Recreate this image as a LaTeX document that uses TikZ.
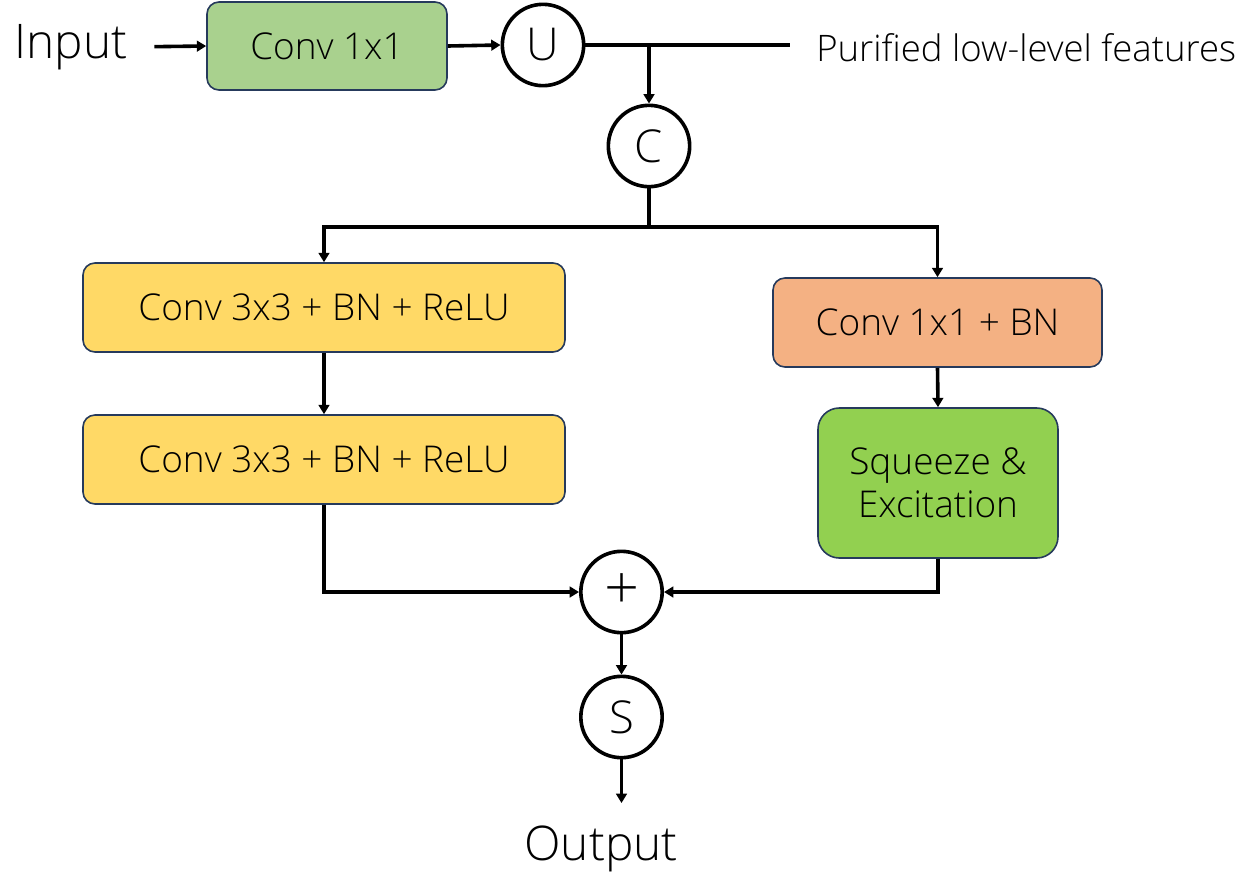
\documentclass[tikz,border=0pt]{standalone}
\usepackage{fontspec}
\IfFontExistsTF{NotoSans-Light.ttf}{\setmainfont{NotoSans-Light.ttf}}{%
  \IfFontExistsTF{Open Sans Light}{\setmainfont{Open Sans Light}}{\setmainfont{Noto Sans}}}
\usetikzlibrary{arrows.meta,calc}
\definecolor{cgreen}{HTML}{A9D18E}
\definecolor{cyellow}{HTML}{FFD966}
\definecolor{corange}{HTML}{F4B183}
\definecolor{cse}{HTML}{92D050}
\definecolor{cborder}{HTML}{263A5C}
\tikzset{
  box/.style={draw=cborder, line width=1.2pt, rounded corners=9pt, align=center,
    font=\fontsize{27.7}{32.5}\selectfont, inner sep=0pt},
  op/.style={circle, draw=black, line width=2.7pt, minimum size=61pt, inner sep=0pt,
    font=\fontsize{34}{36}\selectfont},
  lbl/.style={font=\fontsize{35.8}{38}\selectfont, inner sep=0pt},
  conn/.style={line width=2.7pt, draw=black},
  arr/.style={conn, -{Triangle[length=7pt,width=8pt]}},
}
\begin{document}
\begin{tikzpicture}[x=0.75pt,y=-0.75pt]
\useasboundingbox (0,0) rectangle (1255,886);
\node[lbl] (inp) at (71,47) {Input};
\node[box, fill=cgreen, minimum width=180pt, minimum height=66pt] (conv1) at (327,46) {Conv 1x1};
\node[op] (U) at (543,45) {U};
\coordinate (pf) at (790,45);
\node[font=\fontsize{27.4}{30}\selectfont, anchor=west, inner sep=0pt] (pftext) at (816,48) {Purified low-level features};
\node[op] (C) at (649,146) {C};
\coordinate (split) at (649,227);
\node[box, fill=cyellow, minimum width=361.5pt, minimum height=66.75pt] (L1) at (324,307.5) {Conv 3x3 + BN + ReLU};
\node[box, fill=cyellow, minimum width=361.5pt, minimum height=66.75pt] (L2) at (324,459.5) {Conv 3x3 + BN + ReLU};
\node[box, fill=corange, minimum width=246.75pt, minimum height=66.75pt] (R1) at (937.5,322.5) {Conv 1x1 + BN};
\node[box, fill=cse, rounded corners=16pt, minimum width=180pt, minimum height=112.5pt] (SE) at (938,483) {Squeeze \&\\Excitation};
\node[op, font=\fontsize{46}{48}\selectfont] (plus) at (621.5,592) {+};
\node[op] (S) at (621.5,717) {S};
\node[lbl] (out) at (601,849) {Output};

\draw[arr, shorten <=20pt] (inp.east) -- (conv1.west);
\draw[arr] (conv1.east) -- (U.west);
\draw[conn] (U.east) -- (pf);
\draw[arr] (C |- U) -- (C.north);
\draw[conn] (C.south) -- (split);
\draw[arr] (split) -| (L1.north);
\draw[arr] (split) -| (R1.north);
\draw[arr] (L1.south) -- (L2.north);
\draw[arr] (L2.south) |- (plus.west);
\draw[arr] (R1.south) -- (SE.north);
\draw[arr] (SE.south) |- (plus.east);
\draw[arr] (plus.south) -- (S.north);
\draw[arr, shorten >=17pt] (S.south) -- (S.south |- out.north);
\end{tikzpicture}
\end{document}
